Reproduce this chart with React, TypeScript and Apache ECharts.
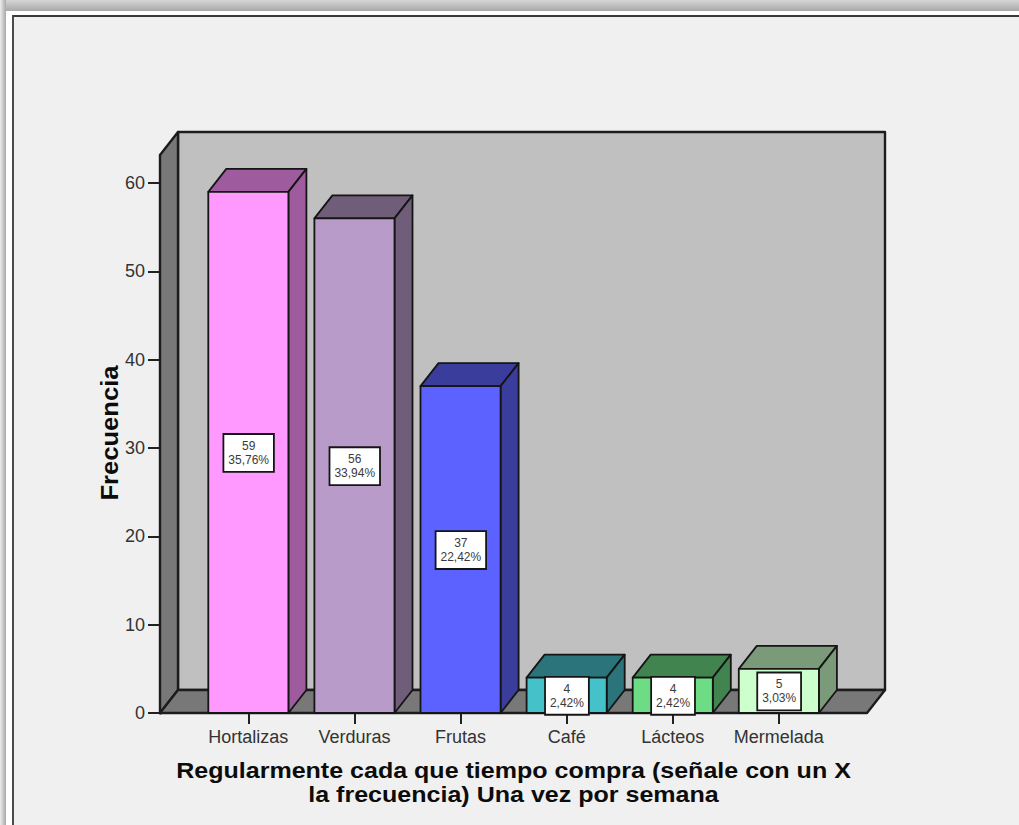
import React, { useEffect, useRef } from "react";
import * as echarts from "echarts";

const categories = ["Hortalizas", "Verduras", "Frutas", "Café", "Lácteos", "Mermelada"];
const frequencies = [59, 56, 37, 4, 4, 5];
const percentages = ["35,76%", "33,94%", "22,42%", "2,42%", "2,42%", "3,03%"];
const frontColors = ["#FF99FF", "#B89BC9", "#5C62FF", "#45C1C9", "#6EDC85", "#CCFFCC"];
const sideColors = ["#9E5C9E", "#6F5D79", "#3A3D9C", "#2B747B", "#418450", "#7A9A7A"];
const yTicks = [0, 10, 20, 30, 40, 50, 60];
const yTop = 63.17;
const xTitle = "Regularmente cada que tiempo compra (señale con un X\nla frecuencia) Una vez por semana";
const yTitle = "Frecuencia";

const DX = 18;
const DY = -23;
const INK = "#151515";
const FONT = '"Liberation Sans", Arial, sans-serif';

const edge = { stroke: INK, lineWidth: 1.8, lineJoin: "round" as const };
const wallEdge = { stroke: "#1c1c1c", lineWidth: 2.4, lineJoin: "round" as const };

function renderWalls(_: any, api: any) {
  const band = api.size([1, 0])[0];
  const c0 = api.coord([0, 0]);
  const top = api.coord([0, yTop])[1];
  const base = c0[1];
  const l = c0[0] - band / 2 - 35.3;
  const r = c0[0] + band * 5.5 + 35.1;
  const poly = (points: number[][], fill: string) => ({
    type: "polygon",
    shape: { points },
    style: { fill, ...wallEdge },
  });
  return {
    type: "group",
    children: [
      poly([[l + DX, top + DY], [r + DX, top + DY], [r + DX, base + DY], [l + DX, base + DY]], "#C0C0C0"),
      poly([[l, top], [l + DX, top + DY], [l + DX, base + DY], [l, base]], "#787878"),
      poly([[l, base], [l + DX, base + DY], [r + DX, base + DY], [r, base]], "#787878"),
    ],
  };
}

function renderBars(_: any, api: any) {
  const i = api.value(0);
  const v = api.value(1);
  const band = api.size([1, 0])[0];
  const w = band * 0.755;
  const [cx, y] = api.coord([i, v]);
  const base = api.coord([i, 0])[1];
  const l = cx - w / 2;
  const r = cx + w / 2;
  const front = frontColors[i];
  const side = sideColors[i];
  return {
    type: "group",
    children: [
      {
        type: "polygon",
        shape: { points: [[l, y], [l + DX, y + DY], [r + DX, y + DY], [r, y]] },
        style: { fill: side, ...edge },
      },
      {
        type: "polygon",
        shape: { points: [[r, y], [r + DX, y + DY], [r + DX, base + DY], [r, base]] },
        style: { fill: side, ...edge },
      },
      {
        type: "rect",
        shape: { x: l, y, width: w, height: base - y },
        style: { fill: front, ...edge },
      },
    ],
  };
}

function renderBoxes(_: any, api: any) {
  const i = api.value(0);
  const v = api.value(1);
  const [cx, y] = api.coord([i, v / 2]);
  return {
    type: "text",
    x: cx + 0.3,
    y: y + 0.5,
    style: {
      text: `${v}\n${percentages[i]}`,
      font: `12px ${FONT}`,
      lineHeight: 14,
      fill: "#3a3a3a",
      align: "center",
      verticalAlign: "middle",
      backgroundColor: "#FFFFFF",
      borderColor: INK,
      borderWidth: 1.8,
      padding: [4, 4, 4, 4],
    },
  };
}

export default function App() {
  const ref = useRef<HTMLDivElement>(null);
  useEffect(() => {
    const chart = echarts.init(ref.current!, undefined, { renderer: "svg" });
    const rows = frequencies.map((v, i) => [i, v]);
    chart.setOption({
      animation: false,
      backgroundColor: "#F0F0F0",
      textStyle: { fontFamily: FONT },
      graphic: [
        { type: "rect", z: -10, shape: { x: 0, y: 0, width: 1019, height: 11 },
          style: { fill: new echarts.graphic.LinearGradient(0, 0, 0, 1, [
            { offset: 0, color: "#D6D6D6" }, { offset: 1, color: "#A8A8A8" }]) } },
        { type: "rect", z: -10, shape: { x: 0, y: 0, width: 6, height: 825 },
          style: { fill: new echarts.graphic.LinearGradient(0, 0, 1, 0, [
            { offset: 0, color: "#EDEDED" }, { offset: 1, color: "#A8A8A8" }]) } },
        { type: "rect", z: -9, shape: { x: 6, y: 11, width: 1013, height: 814 }, style: { fill: "#FFFFFF" } },
        { type: "rect", z: -8, shape: { x: 13, y: 16, width: 1010, height: 815 },
          style: { fill: "#F0F0F0", stroke: "#3A3A3A", lineWidth: 1.8 } },
        { type: "text", z: 10, x: 513.5, y: 782, scaleX: 1.089,
          style: { text: xTitle, font: `bold 23px ${FONT}`, lineHeight: 24, fill: "#0c0c0c",
            align: "center", verticalAlign: "middle" } },
        { type: "text", z: 10, x: 110, y: 433, rotation: Math.PI / 2, scaleX: 1.067,
          style: { text: yTitle, font: `bold 24px ${FONT}`, fill: "#0c0c0c",
            align: "center", verticalAlign: "middle" } },
      ],
      grid: { left: 195.3, width: 636.6, top: 155, height: 558 },
      xAxis: {
        type: "category",
        data: categories,
        axisLine: { show: false },
        axisTick: { show: true, alignWithLabel: true, length: 11, lineStyle: { color: "#222", width: 2 } },
        axisLabel: { color: "#333", fontSize: 18, margin: 15, interval: 0, fontFamily: FONT },
      },
      yAxis: {
        type: "value",
        min: 0,
        max: yTop,
        offset: 35.3,
        splitLine: { show: false },
        axisLine: { show: true, lineStyle: { color: INK, width: 3 } },
        axisTick: { show: true, length: 12, customValues: yTicks, lineStyle: { color: "#222", width: 2 } },
        axisLabel: { color: "#333", fontSize: 18, margin: 15, customValues: yTicks, fontFamily: FONT },
      },
      series: [
        { type: "custom", z: 1, silent: true, renderItem: renderWalls, data: [[0, 0]], encode: { x: 0, y: 1 } },
        { type: "custom", z: 2, silent: true, renderItem: renderBars, data: rows, encode: { x: 0, y: 1 } },
        { type: "custom", z: 3, silent: true, renderItem: renderBoxes, data: rows, encode: { x: 0, y: 1 } },
      ],
    });
    return () => chart.dispose();
  }, []);
  return <div ref={ref} style={{ position: "fixed", left: 0, top: 0, width: 1019, height: 825 }} />;
}
